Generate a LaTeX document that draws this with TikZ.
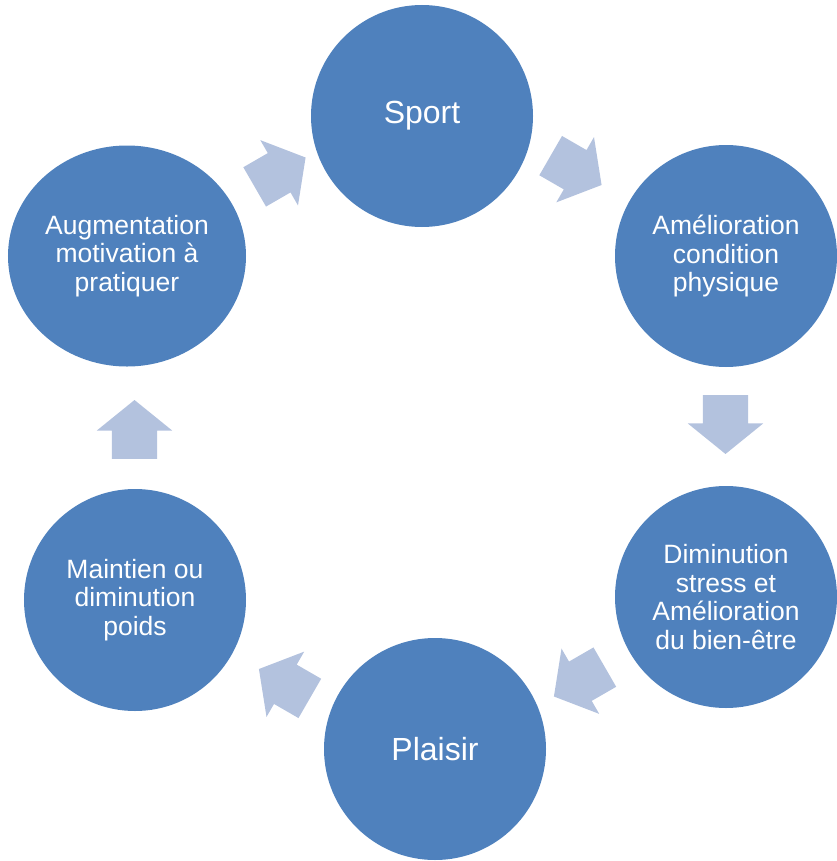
\documentclass[tikz,border=0pt]{standalone}
\usepackage{fontspec}
\setmainfont{Liberation Sans}
\usetikzlibrary{shapes.geometric,shapes.arrows}
\definecolor{cyclefill}{HTML}{4F81BD}
\definecolor{arrowfill}{HTML}{B3C2DE}
\tikzset{
  stage/.style={circle,fill=cyclefill,text=white,inner sep=0pt,minimum size=222bp,
    align=center,font=\fontsize{26.5bp}{28.5bp}\selectfont},
  bigstage/.style={stage,font=\fontsize{32bp}{36bp}\selectfont},
  cyclearrow/.style={single arrow,fill=arrowfill,anchor=tail,inner sep=0pt,
    text width=40bp,text height=45bp,text depth=0pt,
    single arrow head extend=15bp,single arrow tip angle=102}
}
\begin{document}
\begin{tikzpicture}[x=1bp,y=-1bp]
  \useasboundingbox (0,0) rectangle (837,861);
  % the six stages
  \node[bigstage] (sport) at (422,116) {Sport};
  \node[stage] (cond) at (726,256) {Amélioration\\condition\\physique};
  \node[stage] (stress) at (726,597) {Diminution\\stress et\\Amélioration\\du bien-être};
  \node[bigstage] (plaisir) at (435,749) {Plaisir};
  \node[stage] (poids) at (135,600) {Maintien ou\\diminution\\poids};
  \node[stage,ellipse,minimum width=238bp,minimum height=221bp] (motiv) at (127,256)
    {Augmentation\\motivation à\\pratiquer};
  % block arrows between them
  \node[cyclearrow,rotate=-30] (a1) at (550.5,155.5) {};
  \node[cyclearrow,rotate=-90] (a2) at (725.5,395) {};
  \node[cyclearrow,rotate=-150] (a3) at (605,667) {};
  \node[cyclearrow,rotate=150] (a4) at (310,698.5) {};
  \node[cyclearrow,rotate=90] (a5) at (134.5,459) {};
  \node[cyclearrow,rotate=30] (a6) at (254.5,187) {};
\end{tikzpicture}
\end{document}
